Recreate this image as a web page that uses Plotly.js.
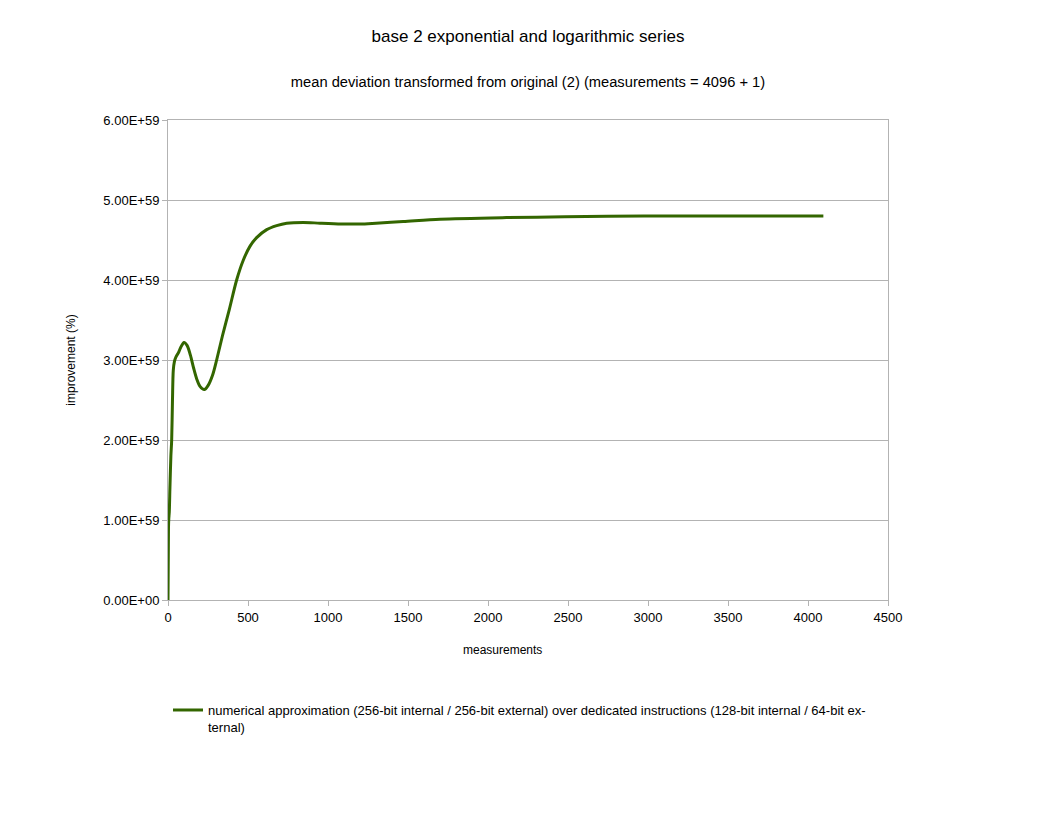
<!DOCTYPE html>
<html>
<head>
<meta charset="utf-8">
<script src="https://cdn.plot.ly/plotly-3.0.1.min.js"></script>
<style>
  body { margin: 0; background: #fff; }
  #chart { width: 1056px; height: 816px; }
</style>
</head>
<body>
<div id="chart"></div>
<script>
// values
const measurements = [0, 3, 5, 8, 12, 18, 23, 28, 33, 40, 50, 65, 80, 100, 120, 140, 160, 180, 200, 227,
    250, 280, 304, 340, 383, 429, 471, 512, 554, 617, 679, 742, 846, 950, 1083,
    1200, 1300, 1470, 1700, 2116, 2481, 2975, 3622, 4096];
const improvement = [0, 0.9, 1.02, 1.1, 1.4, 1.8, 2.0, 2.5, 2.87, 2.98, 3.04, 3.09, 3.16, 3.22, 3.18, 3.06, 2.90, 2.76, 2.67, 2.63,
    2.68, 2.82, 3.0, 3.30, 3.63, 4.0, 4.25, 4.42, 4.53, 4.63, 4.68, 4.71, 4.72, 4.71, 4.70,
    4.70, 4.71, 4.73, 4.76, 4.78, 4.79, 4.80, 4.80, 4.80].map(v => v * 1e59);

const yTickVals = [0, 1e59, 2e59, 3e59, 4e59, 5e59, 6e59];
const yTickText = ['0.00E+00', '1.00E+59', '2.00E+59', '3.00E+59', '4.00E+59', '5.00E+59', '6.00E+59'];

const seriesName = 'numerical approximation (256-bit internal / 256-bit external) over dedicated instructions (128-bit internal / 64-bit ex-<br>ternal)';

const font = 'Liberation Sans, Arial, sans-serif';

const trace = {
    x: measurements,
    y: improvement,
    name: seriesName,
    type: 'scatter',
    mode: 'lines',
    line: { color: '#336600', width: 3, shape: 'spline', smoothing: 0.8 },
    showlegend: true
};

const layout = {
    width: 1056,
    height: 816,
    paper_bgcolor: '#fff',
    plot_bgcolor: '#fff',
    font: { family: font, size: 13, color: '#000' },
    margin: { l: 168, r: 168, t: 120, b: 216 },
    title: {
        text: 'base 2 exponential and logarithmic series<br><br><span style="font-size:14.7px">mean deviation transformed from original (2) (measurements = 4096 + 1)</span>',
        font: { family: font, size: 17, color: '#000' },
        x: 0.5,
        xanchor: 'center',
        y: 0.948,
        yanchor: 'top'
    },
    xaxis: {
        range: [0, 4500],
        tickvals: [0, 500, 1000, 1500, 2000, 2500, 3000, 3500, 4000, 4500],
        ticks: 'outside',
        ticklen: 5,
        tickcolor: '#b3b3b3',
        showgrid: false,
        zeroline: false,
        showline: true,
        linecolor: '#b3b3b3',
        mirror: true,
        tickfont: { size: 13 }
    },
    yaxis: {
        range: [0, 6e59],
        tickvals: yTickVals,
        ticktext: yTickText,
        ticks: 'outside',
        ticklen: 5,
        tickcolor: '#b3b3b3',
        showgrid: true,
        gridcolor: '#b3b3b3',
        zeroline: false,
        showline: true,
        linecolor: '#b3b3b3',
        mirror: true,
        tickfont: { size: 13 },
        title: { text: 'improvement (%)', font: { size: 12 }, standoff: 25 }
    },
    annotations: [{
        text: 'measurements',
        xref: 'paper', yref: 'paper',
        x: (502 - 168) / 720, y: -50 / 480,
        xanchor: 'center', yanchor: 'middle',
        showarrow: false,
        font: { size: 12 }
    }],
    showlegend: true,
    legend: {
        x: 0.0,
        xanchor: 'left',
        y: -0.198,
        yanchor: 'top',
        valign: 'top',
        font: { size: 13 },
        bgcolor: 'rgba(0,0,0,0)',
        itemwidth: 30
    }
};

Plotly.newPlot('chart', [trace], layout, { displayModeBar: false, staticPlot: true });
</script>
</body>
</html>
